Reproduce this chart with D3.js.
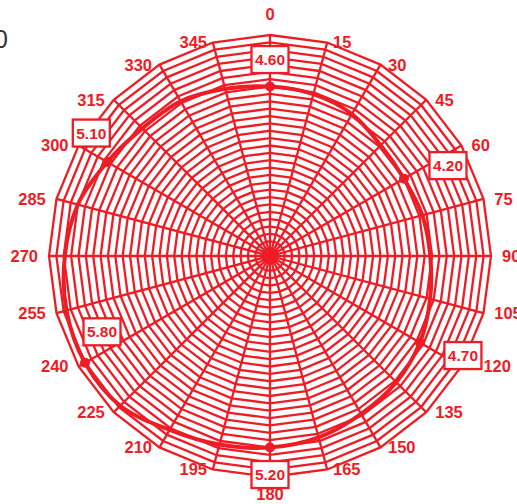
<!DOCTYPE html>
<html>
<head>
<meta charset="utf-8">
<script src="https://cdn.jsdelivr.net/npm/d3@7"></script>
<style>
  html, body { margin: 0; padding: 0; background: #fff; }
  svg { display: block; }
</style>
</head>
<body>
<svg id="chart" width="517" height="504"></svg>
<script>
// Directions (degrees, clockwise from north)
const angles = [0, 15, 30, 45, 60, 75, 90, 105, 120, 135, 150, 165,
                180, 195, 210, 225, 240, 255, 270, 285, 300, 315, 330, 345];
// Measured value at each direction
const values = [4.60, 4.55, 4.45, 4.25, 4.20, 4.28, 4.35, 4.50, 4.70, 4.85, 4.95, 5.10,
                5.20, 5.30, 5.45, 5.75, 5.80, 5.72, 5.57, 5.40, 5.10, 4.90, 4.85, 4.70];
// Directions whose value is marked and labelled
const labelledAngles = [0, 60, 120, 180, 240, 300];
// Radial axis: 0 to 6 in steps of 0.2
const radialMax = 6;
const radialStep = 0.2;

const RED = "#ee1c25";
const W = 517, H = 504;
const cx = 270, cy = 256, R = 221;

// Callout box offsets from their marker (dx, dy)
const calloutOffset = {0: [0, -27], 60: [44, -13], 120: [43, 13],
                       180: [0, 27], 240: [17, -31], 300: [-16, -29]};

const svg = d3.select("#chart");
const g = svg.append("g").attr("transform", `translate(${cx},${cy})`);

const r = d3.scaleLinear().domain([0, radialMax]).range([0, R]);
const toRad = d => d * Math.PI / 180;
const pt = (a, v) => [r(v) * Math.sin(toRad(a)), -r(v) * Math.cos(toRad(a))];

// Polygonal rings
const ringValues = d3.range(1, Math.round(radialMax / radialStep) + 1).map(i => i * radialStep);
const ringLine = d3.lineRadial().angle(d => toRad(d[0])).radius(d => r(d[1])).curve(d3.curveLinearClosed);
g.append("g").selectAll("path").data(ringValues).join("path")
  .attr("d", v => ringLine(angles.map(a => [a, v])))
  .attr("fill", "none").attr("stroke", RED).attr("stroke-width", 2.3);

// Spokes
g.append("g").selectAll("line").data(angles).join("line")
  .attr("x1", 0).attr("y1", 0)
  .attr("x2", a => pt(a, radialMax)[0]).attr("y2", a => pt(a, radialMax)[1])
  .attr("stroke", RED).attr("stroke-width", 2.3);

// Data curve
const dataLine = d3.lineRadial().angle(d => toRad(d[0])).radius(d => r(d[1])).curve(d3.curveCardinalClosed.tension(0));
g.append("path")
  .attr("d", dataLine(angles.map((a, i) => [a, values[i]])))
  .attr("fill", "none").attr("stroke", RED).attr("stroke-width", 4);

// Markers
const marked = labelledAngles.map(a => ({a, v: values[angles.indexOf(a)]}));
g.append("g").selectAll("circle").data(marked).join("circle")
  .attr("cx", d => pt(d.a, d.v)[0]).attr("cy", d => pt(d.a, d.v)[1])
  .attr("r", 5).attr("fill", RED);

// Callout boxes with the value
const boxW = 37, boxH = 27;
const callouts = g.append("g").selectAll("g").data(marked).join("g")
  .attr("transform", d => {
    const p = pt(d.a, d.v), o = calloutOffset[d.a];
    return `translate(${p[0] + o[0]},${p[1] + o[1]})`;
  });
callouts.append("rect")
  .attr("x", -boxW / 2).attr("y", -boxH / 2).attr("width", boxW).attr("height", boxH)
  .attr("fill", "#fff").attr("stroke", RED).attr("stroke-width", 2.3);
callouts.append("text")
  .attr("text-anchor", "middle").attr("dy", "0.36em")
  .attr("font-family", "Liberation Sans, Arial, sans-serif")
  .attr("font-weight", "bold").attr("font-size", 15.5).attr("fill", RED)
  .text(d => d.v.toFixed(2));

// Direction labels
const boxRects = callouts.nodes().map(n => {
  const b = n.getBBox(), t = n.transform.baseVal.consolidate().matrix;
  return {x0: b.x + t.e, x1: b.x + b.width + t.e, y0: b.y + t.f, y1: b.y + b.height + t.f};
});
g.append("g").selectAll("text").data(angles).join("text")
  .attr("font-family", "Liberation Sans, Arial, sans-serif")
  .attr("font-weight", "bold").attr("font-size", 16.5).attr("fill", RED)
  .attr("dy", "0.36em")
  .text(a => String(a))
  .each(function(a) {
    const [vx, vy] = pt(a, radialMax);
    const s = Math.sin(toRad(a));
    const el = d3.select(this);
    if (a === 0) {
      el.attr("x", vx).attr("y", vy - 21).attr("text-anchor", "middle");
    } else if (a === 180) {
      el.attr("x", vx).attr("y", vy + 17).attr("text-anchor", "middle");
    } else {
      const off = 4 + 7 * Math.abs(s);
      el.attr("x", vx + Math.sign(s) * off).attr("y", vy)
        .attr("text-anchor", s > 0 ? "start" : "end");
    }
    // Move a label sideways if it sits under a callout box
    const b = this.getBBox();
    for (const q of boxRects) {
      const overlap = b.x < q.x1 && b.x + b.width > q.x0 && b.y < q.y1 && b.y + b.height > q.y0;
      if (overlap && a !== 0 && a !== 180) {
        const shift = s > 0 ? q.x1 + 2 - b.x : q.x0 - 2 - (b.x + b.width);
        el.attr("x", +el.attr("x") + shift);
      }
    }
  });

// Corner text
svg.append("text")
  .attr("x", 8).attr("y", 48).attr("text-anchor", "end")
  .attr("font-family", "Liberation Sans, Arial, sans-serif")
  .attr("font-size", 25).attr("fill", "#333")
  .text("0");
</script>
</body>
</html>
